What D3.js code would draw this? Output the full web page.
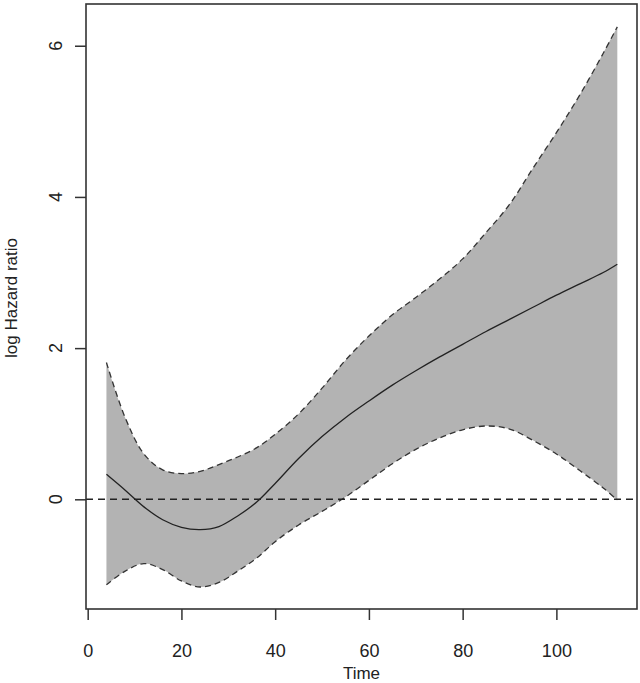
<!DOCTYPE html>
<html>
<head>
<meta charset="utf-8">
<script src="https://cdn.jsdelivr.net/npm/d3@7"></script>
<style>
  body { margin: 0; background: #fff; }
  text { font-family: "Liberation Sans", Arial, sans-serif; fill: #222; }
</style>
</head>
<body>
<div id="chart"></div>
<script>
// time grid and the fitted log hazard ratio with its band
var time = [4, 8, 12, 16, 20, 24, 28, 32, 36, 40, 45, 50, 55, 60, 65, 70, 75, 80, 85, 90, 95, 100, 105, 110, 113];
var estimate = [0.33, 0.12, -0.10, -0.27, -0.37, -0.40, -0.36, -0.22, -0.04, 0.21, 0.54, 0.83, 1.08, 1.30, 1.51, 1.70, 1.88, 2.05, 2.22, 2.38, 2.54, 2.70, 2.85, 3.00, 3.11];
var upper = [1.81, 1.08, 0.60, 0.39, 0.34, 0.37, 0.46, 0.56, 0.68, 0.86, 1.13, 1.47, 1.84, 2.16, 2.44, 2.67, 2.91, 3.18, 3.53, 3.90, 4.38, 4.85, 5.35, 5.90, 6.25];
var lower = [-1.13, -0.95, -0.85, -0.93, -1.08, -1.16, -1.10, -0.95, -0.78, -0.56, -0.34, -0.16, 0.03, 0.25, 0.47, 0.66, 0.81, 0.92, 0.97, 0.93, 0.78, 0.60, 0.38, 0.15, -0.01];

var xTicks = [0, 20, 40, 60, 80, 100];
var yTicks = [0, 2, 4, 6];

var width = 640, height = 683;
var margin = { top: 4, right: 3, bottom: 74, left: 86 };

var svg = d3.select("#chart")
  .append("svg")
  .attr("width", width)
  .attr("height", height);

var x = d3.scaleLinear()
  .domain([-0.36, 117.2])
  .range([margin.left, width - margin.right]);

var y = d3.scaleLinear()
  .domain([-1.451, 6.552])
  .range([height - margin.bottom, margin.top]);

var rows = time.map(function (t, i) {
  return { t: t, est: estimate[i], hi: upper[i], lo: lower[i] };
});

var curve = d3.curveCatmullRom.alpha(0.5);

// shaded confidence band
svg.append("path")
  .datum(rows)
  .attr("fill", "#b3b3b3")
  .attr("d", d3.area()
    .curve(curve)
    .x(function (d) { return x(d.t); })
    .y0(function (d) { return y(d.lo); })
    .y1(function (d) { return y(d.hi); }));

// dashed band edges
["hi", "lo"].forEach(function (k) {
  svg.append("path")
    .datum(rows)
    .attr("fill", "none")
    .attr("stroke", "#333")
    .attr("stroke-width", 1.3)
    .attr("stroke-dasharray", "6,4")
    .attr("d", d3.line()
      .curve(curve)
      .x(function (d) { return x(d.t); })
      .y(function (d) { return y(d[k]); }));
});

// estimate
svg.append("path")
  .datum(rows)
  .attr("fill", "none")
  .attr("stroke", "#222")
  .attr("stroke-width", 1.3)
  .attr("d", d3.line()
    .curve(curve)
    .x(function (d) { return x(d.t); })
    .y(function (d) { return y(d.est); }));

// reference line at zero
svg.append("line")
  .attr("x1", x.range()[0])
  .attr("x2", x.range()[1])
  .attr("y1", y(0))
  .attr("y2", y(0))
  .attr("stroke", "#222")
  .attr("stroke-width", 1.5)
  .attr("stroke-dasharray", "7,5");

// box
svg.append("rect")
  .attr("x", x.range()[0])
  .attr("y", y.range()[1])
  .attr("width", x.range()[1] - x.range()[0])
  .attr("height", y.range()[0] - y.range()[1])
  .attr("fill", "none")
  .attr("stroke", "#333")
  .attr("stroke-width", 1.6);

// x axis
var xAxis = svg.append("g")
  .attr("transform", "translate(0," + y.range()[0] + ")")
  .call(d3.axisBottom(x).tickValues(xTicks).tickSize(11).tickPadding(24));
xAxis.select(".domain").remove();
xAxis.selectAll(".tick line").attr("stroke", "#333").attr("stroke-width", 1.5);
xAxis.selectAll(".tick text")
  .style("font-size", "18px")
  .style("font-family", "Liberation Sans, Arial, sans-serif")
  .attr("fill", "#222");

// y axis
var yAxis = svg.append("g")
  .attr("transform", "translate(" + x.range()[0] + ",0)")
  .call(d3.axisLeft(y).tickValues(yTicks).tickSize(11).tickFormat(""));
yAxis.select(".domain").remove();
yAxis.selectAll(".tick line").attr("stroke", "#333").attr("stroke-width", 1.5);

svg.selectAll(".ylab")
  .data(yTicks)
  .enter()
  .append("text")
  .attr("class", "ylab")
  .attr("transform", function (d) { return "translate(62," + y(d) + ") rotate(-90)"; })
  .attr("text-anchor", "middle")
  .style("font-size", "18px")
  .text(function (d) { return d; });

// axis titles
svg.append("text")
  .attr("x", (x.range()[0] + x.range()[1]) / 2)
  .attr("y", 679)
  .attr("text-anchor", "middle")
  .style("font-size", "17px")
  .text("Time");

svg.append("text")
  .attr("transform", "translate(17,298) rotate(-90)")
  .attr("text-anchor", "middle")
  .style("font-size", "17px")
  .text("log Hazard ratio");
</script>
</body>
</html>
